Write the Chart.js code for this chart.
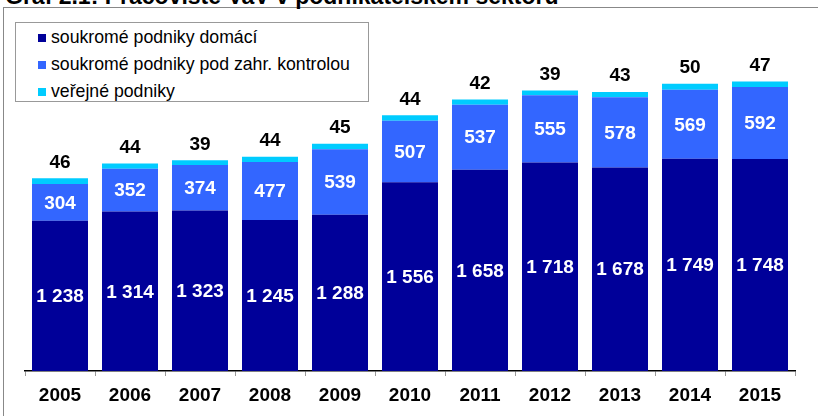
<!DOCTYPE html>
<html lang="cs">
<head>
<meta charset="utf-8">
<script src="https://cdn.jsdelivr.net/npm/chart.js@4.4.1/dist/chart.umd.min.js"></script>
<style>
    html, body { margin: 0; padding: 0; background: #fff; overflow: hidden; }
    #wrap { position: relative; width: 818px; height: 416px; font-family: Arial, "Liberation Sans", sans-serif; }
    #frame { position: absolute; left: 3px; top: 7px; width: 900px; height: 500px; border-left: 1px solid #888; border-top: 1px solid #888; }
    #title { position: absolute; left: 5px; top: -15px; font-size: 23px; line-height: 23px; font-weight: bold; white-space: nowrap; color: #000; }
    #legend { position: absolute; left: 15px; top: 22px; width: 352px; height: 78px; border: 1px solid #999; background: #fff; z-index: 2; }
    #legend div { position: absolute; left: 22px; font-size: 17.7px; line-height: 18px; color: #000; white-space: nowrap; }
    #legend span { display: inline-block; width: 8px; height: 8px; margin-right: 5px; vertical-align: 1px; }
    canvas { position: absolute; left: 0; top: 0; }
</style>
</head>
<body>
<div id="wrap">
    <div id="frame"></div>
    <div id="title">Graf 2.1: Pracoviště VaV v podnikatelském sektoru</div>
    <canvas id="myChart" width="818" height="416"></canvas>
    <div id="legend"></div>
</div>
<script>
// Data
const roky = ['2005', '2006', '2007', '2008', '2009', '2010', '2011', '2012', '2013', '2014', '2015'];
const nazvyRad = ['soukromé podniky domácí', 'soukromé podniky pod zahr. kontrolou', 'veřejné podniky'];
const domaci = [1238, 1314, 1323, 1245, 1288, 1556, 1658, 1718, 1678, 1749, 1748];
const zahranicni = [304, 352, 374, 477, 539, 507, 537, 555, 578, 569, 592];
const verejne = [46, 44, 39, 44, 45, 44, 42, 39, 43, 50, 47];
const barvy = ['#000099', '#3366ff', '#00ccff'];

// Formát čísla s mezerou jako oddělovačem tisíců
function formatCislo(n) {
    return n.toString().replace(/\B(?=(\d{3})+(?!\d))/g, ' ');
}

// Legenda v HTML
const legendEl = document.getElementById('legend');
const legendTops = [5, 32, 59];
nazvyRad.forEach((nazev, i) => {
    const row = document.createElement('div');
    row.style.top = legendTops[i] + 'px';
    row.innerHTML = `<span style="background:${barvy[i]}"></span>${nazev}`;
    legendEl.appendChild(row);
});

// Plugin pro popisky hodnot
const popiskyPlugin = {
    id: 'popisky',
    afterDatasetsDraw(chart) {
        const ctx = chart.ctx;
        ctx.save();
        ctx.font = 'bold 19px Arial, "Liberation Sans", sans-serif';
        ctx.textAlign = 'center';
        ctx.textBaseline = 'middle';
        chart.data.datasets.forEach((ds, di) => {
            const meta = chart.getDatasetMeta(di);
            meta.data.forEach((bar, i) => {
                const text = formatCislo(ds.data[i]);
                if (di < 2) {
                    ctx.fillStyle = '#fff';
                    ctx.fillText(text, bar.x, (bar.y + bar.base) / 2 + 1);
                } else {
                    ctx.fillStyle = '#000';
                    ctx.fillText(text, bar.x, bar.y - 16);
                }
            });
        });
        ctx.restore();
    }
};

const ctx = document.getElementById('myChart').getContext('2d');
new Chart(ctx, {
    type: 'bar',
    data: {
        labels: roky,
        datasets: [
            { label: nazvyRad[0], data: domaci, backgroundColor: barvy[0] },
            { label: nazvyRad[1], data: zahranicni, backgroundColor: barvy[1] },
            { label: nazvyRad[2], data: verejne, backgroundColor: barvy[2] }
        ]
    },
    options: {
        responsive: false,
        animation: false,
        categoryPercentage: 0.8,
        barPercentage: 1,
        layout: {
            padding: { left: 25, right: 23, top: 7, bottom: 0 }
        },
        plugins: {
            legend: { display: false },
            tooltip: { enabled: false }
        },
        scales: {
            x: {
                stacked: true,
                afterFit: function(scale) { scale.height = 45; },
                grid: {
                    drawOnChartArea: false,
                    drawTicks: true,
                    tickLength: 5,
                    color: '#999'
                },
                border: { display: true, color: '#000', width: 1.5 },
                ticks: {
                    color: '#000',
                    padding: 8,
                    font: { family: 'Arial, "Liberation Sans", sans-serif', size: 19, weight: 'bold' }
                }
            },
            y: {
                stacked: true,
                display: false,
                min: 0,
                max: 3000
            }
        }
    },
    plugins: [popiskyPlugin]
});
</script>
</body>
</html>
